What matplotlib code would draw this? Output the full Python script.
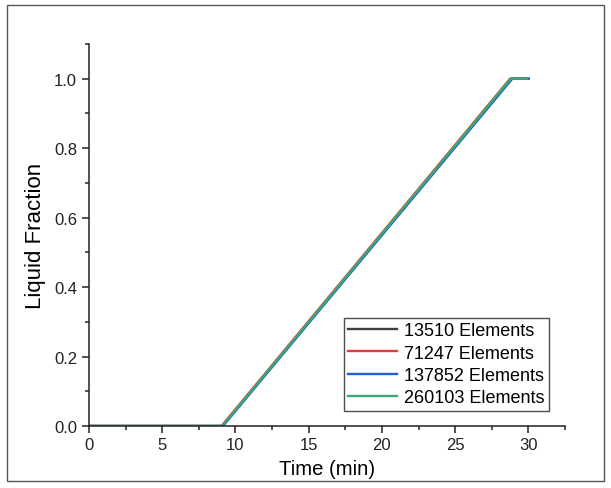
import matplotlib
matplotlib.use("Agg")
import matplotlib.pyplot as plt
from matplotlib.patches import Rectangle
from matplotlib.ticker import MultipleLocator

plt.rcParams['font.family'] = ['Liberation Sans', 'DejaVu Sans']

# Data (breakpoints)
labels = ["13510 Elements", "71247 Elements", "137852 Elements", "260103 Elements"]
colors = ["#404040", "#e8383d", "#1f5fd6", "#3aaa70"]
time_13510 = [0.0, 9.1, 28.85, 30.0]
frac_13510 = [0.0, 0.0, 1.0, 1.0]
time_71247 = [0.0, 9.05, 28.75, 30.0]
frac_71247 = [0.0, 0.0, 1.0, 1.0]
time_137852 = [0.0, 9.15, 28.9, 30.0]
frac_137852 = [0.0, 0.0, 1.0, 1.0]
time_260103 = [0.0, 9.1, 28.8, 29.9]
frac_260103 = [0.0, 0.0, 1.0, 1.0]

series = [(time_13510, frac_13510), (time_71247, frac_71247),
          (time_137852, frac_137852), (time_260103, frac_260103)]

fig = plt.figure(figsize=(6.11, 4.89), dpi=100)
ax = fig.add_axes([89/611, 1 - 427/489, (565-89)/611, (427-45)/489])

for (t, f), lab, c in zip(series, labels, colors):
    ax.plot(t, f, color=c, lw=1.7, label=lab, solid_joinstyle='miter')

ax.set_xlim(0, 32.5)
ax.set_ylim(0, 1.1)
ax.xaxis.set_major_locator(MultipleLocator(5))
ax.xaxis.set_minor_locator(MultipleLocator(2.5))
ax.yaxis.set_major_locator(MultipleLocator(0.2))
ax.yaxis.set_minor_locator(MultipleLocator(0.1))
ax.set_yticks([0.0, 0.2, 0.4, 0.6, 0.8, 1.0])
ax.set_yticklabels(["0.0", "0.2", "0.4", "0.6", "0.8", "1.0"])
ax.spines['top'].set_visible(False)
ax.spines['right'].set_visible(False)
for s in ('left', 'bottom'):
    ax.spines[s].set_linewidth(1.1)
    ax.spines[s].set_color('#222222')
ax.tick_params(which='major', direction='out', length=5, width=1.1, labelsize=12, colors='#222222')
ax.tick_params(which='minor', direction='out', length=3, width=1.1, colors='#222222')
ax.tick_params(axis='x', pad=3)

ax.set_xlabel("Time (min)", fontsize=14.6, labelpad=5)
ax.set_ylabel("Liquid Fraction", fontsize=16, labelpad=6)

leg = ax.legend(loc='lower right', bbox_to_anchor=(549/611, 1 - 412/489),
                bbox_transform=fig.transFigure, fontsize=13, frameon=True,
                fancybox=False, edgecolor='#222222', handlelength=2.7,
                handletextpad=0.4, borderpad=0.25, labelspacing=0.3,
                borderaxespad=0)
leg.get_frame().set_linewidth(1.0)

fig.patches.append(Rectangle((7/611, 1 - 482/489), (604-7)/611, (482-6)/489,
                             transform=fig.transFigure, fill=False,
                             edgecolor='#555555', lw=1.0))

fig.savefig("out.png", dpi=100)
